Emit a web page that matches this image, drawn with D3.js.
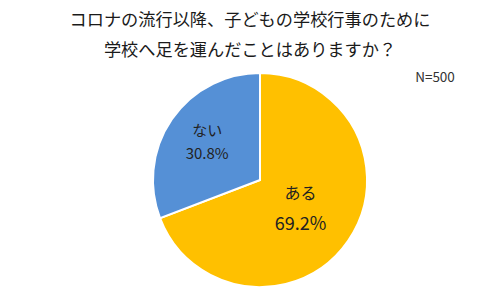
<!DOCTYPE html>
<html>
<head>
<meta charset="utf-8">
<script src="https://cdn.jsdelivr.net/npm/d3@7"></script>
<style>
  body { margin: 0; background: #fff; }
  text { font-family: "Noto Sans CJK JP", "Noto Sans", sans-serif; }
</style>
</head>
<body>
<svg class="chartSVG" width="500" height="300"></svg>
<script>
const categories = ['ある', 'ない'];
const shares = [69.2, 30.8];
const sliceCols = ['#FFC000', '#5590D6'];
const titleLines = [
  'コロナの流行以降、子どもの学校行事のために',
  '学校へ足を運んだことはありますか？'
];
const sampleNote = 'N=500';

const svg = d3.select('svg.chartSVG');
const cx = 260, cy = 180, radius = 107;

const pieData = categories.map((c, i) => ({cat: c, val: shares[i]}));

const colScale = d3.scaleOrdinal()
  .domain(categories)
  .range(sliceCols);

const pie = d3.pie()
  .sort(null)
  .value(d => d.val);

const arc = d3.arc()
  .innerRadius(0)
  .outerRadius(radius);

const pieGrp = svg.append('g')
  .attr('transform', `translate(${cx},${cy})`);

pieGrp.selectAll('path')
  .data(pie(pieData))
  .enter()
  .append('path')
  .attr('d', arc)
  .style('fill', d => colScale(d.data.cat))
  .style('stroke', '#fff')
  .style('stroke-width', 2);

// label distance from centre differs per slice (big slice sits nearer the middle)
const labelFrac = [0.46, 0.6];

const labels = pieGrp.selectAll('g.lbl')
  .data(pie(pieData))
  .enter()
  .append('g')
  .attr('class', 'lbl')
  .attr('transform', d => {
    const r = radius * labelFrac[d.index];
    const [x, y] = d3.arc().innerRadius(r).outerRadius(r).centroid(d);
    return `translate(${x},${y})`;
  });

labels.append('text')
  .attr('y', d => d.index === 0 ? -9 : -8)
  .style('text-anchor', 'middle')
  .style('font-size', d => d.index === 0 ? '16px' : '15px')
  .style('fill', '#222')
  .text(d => d.data.cat);

labels.append('text')
  .attr('y', d => d.index === 0 ? 22 : 15)
  .style('text-anchor', 'middle')
  .style('font-size', d => d.index === 0 ? '18px' : '15px')
  .style('fill', '#222')
  .text(d => d3.format('.1f')(d.data.val) + '%');

const titleGrp = svg.append('g').attr('class', 'titles');
titleGrp.selectAll('text')
  .data(titleLines)
  .enter()
  .append('text')
  .attr('x', 250)
  .attr('y', (d, i) => 26 + i * 30)
  .style('text-anchor', 'middle')
  .style('font-size', '17.2px')
  .style('fill', '#1a1a1a')
  .text(d => d);

svg.append('text')
  .attr('x', 435)
  .attr('y', 82)
  .style('text-anchor', 'middle')
  .style('font-size', '13.5px')
  .style('fill', '#333')
  .text(sampleNote);
</script>
</body>
</html>
